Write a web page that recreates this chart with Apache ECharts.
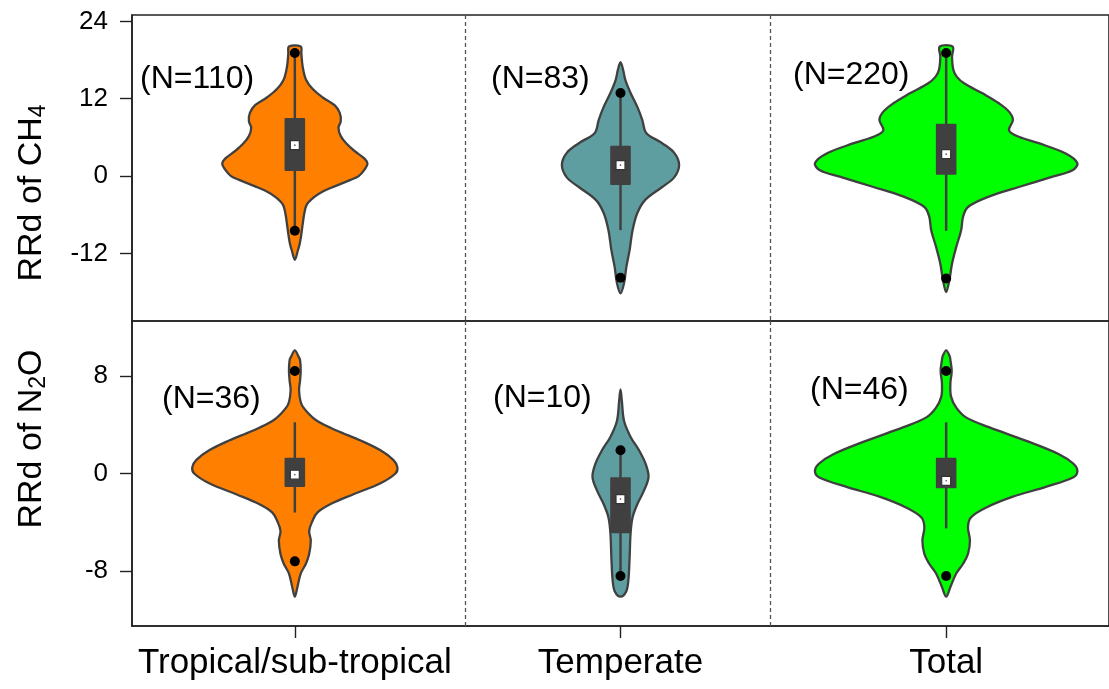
<!DOCTYPE html>
<html>
<head>
<meta charset="utf-8">
<script src="https://cdn.jsdelivr.net/npm/echarts@6/dist/echarts.min.js"></script>
<style>
  html, body { margin: 0; padding: 0; background: #fff; }
  #chart { width: 1109px; height: 689px; }
</style>
</head>
<body>
<div id="chart"></div>
<script>
// ---- data -------------------------------------------------------------
const categories = ['Tropical/sub-tropical', 'Temperate', 'Total'];
const ch4Counts = [110, 83, 220];
const n2oCounts = [36, 10, 46];
const ch4Ticks = [-12, 0, 12, 24];
const n2oTicks = [-8, 0, 8];

// violin outlines: [RRd value, half-width as a fraction of the category band]
const ch4TropicalDensity = [
  [20.1, 0.018], [19.0, 0.020], [17.0, 0.024], [15.0, 0.034], [13.5, 0.055],
  [12.2, 0.086], [11.0, 0.122], [9.8, 0.138], [8.5, 0.141], [7.5, 0.134],
  [6.2, 0.141], [5.0, 0.159], [3.9, 0.183], [2.7, 0.214], [1.9, 0.223],
  [1.0, 0.214], [0.0, 0.196], [-0.6, 0.171], [-1.6, 0.122], [-2.4, 0.086],
  [-3.3, 0.058], [-4.4, 0.037], [-5.8, 0.029], [-7.5, 0.024], [-9.0, 0.020],
  [-10.5, 0.015], [-11.6, 0.009], [-13.0, 0]
];
const ch4TemperateDensity = [
  [17.7, 0], [16.5, 0.008], [14.9, 0.015], [12.9, 0.031], [10.7, 0.052],
  [8.7, 0.067], [6.7, 0.079], [5.1, 0.128], [3.6, 0.165], [1.7, 0.180],
  [-0.2, 0.165], [-1.7, 0.128], [-3.7, 0.076], [-5.7, 0.052], [-8.4, 0.037],
  [-11.5, 0.028], [-14.1, 0.018], [-16.6, 0.011], [-18.2, 0]
];
const ch4TotalDensity = [
  [20.1, 0.020], [18.5, 0.018], [16.5, 0.022], [15.4, 0.033], [14.4, 0.055],
  [12.8, 0.113], [11.3, 0.162], [10.0, 0.193], [8.7, 0.205], [7.1, 0.193],
  [6.1, 0.223], [5.1, 0.284], [3.5, 0.367], [2.0, 0.403], [0.9, 0.388],
  [-0.1, 0.327], [-1.7, 0.223], [-3.2, 0.131], [-4.8, 0.067], [-6.3, 0.052],
  [-8.4, 0.046], [-11.0, 0.031], [-13.6, 0.018], [-16.1, 0.010], [-18.0, 0]
];
const n2oTropicalDensity = [
  [10.1, 0], [9.6, 0.011], [9.3, 0.016], [8.4, 0.018], [7.6, 0.016],
  [6.8, 0.013], [5.7, 0.020], [5.0, 0.039], [4.3, 0.069], [3.5, 0.130],
  [2.7, 0.202], [1.9, 0.263], [1.1, 0.303], [0.5, 0.315], [0.0, 0.309],
  [-0.8, 0.263], [-1.7, 0.180], [-2.5, 0.110], [-3.2, 0.069], [-3.9, 0.054],
  [-4.7, 0.044], [-5.5, 0.049], [-6.6, 0.044], [-7.4, 0.034], [-8.2, 0.018],
  [-9.3, 0.008], [-10.1, 0]
];
const n2oTemperateDensity = [
  [6.9, 0], [6.0, 0.004], [4.3, 0.011], [3.0, 0.031], [1.9, 0.057],
  [0.8, 0.077], [-0.3, 0.086], [-1.4, 0.072], [-2.5, 0.052], [-3.6, 0.037],
  [-4.9, 0.031], [-6.9, 0.028], [-8.8, 0.024], [-9.7, 0.017], [-10.1, 0]
];
const n2oTotalDensity = [
  [10.1, 0], [9.6, 0.011], [9.3, 0.013], [8.4, 0.017], [7.4, 0.013],
  [6.3, 0.015], [5.4, 0.031], [4.6, 0.061], [3.8, 0.131], [2.7, 0.244],
  [1.6, 0.345], [0.8, 0.391], [0.2, 0.403], [-0.3, 0.391], [-1.1, 0.306],
  [-1.9, 0.205], [-2.8, 0.122], [-3.6, 0.076], [-4.4, 0.067], [-5.5, 0.073],
  [-6.6, 0.067], [-7.4, 0.052], [-8.2, 0.031], [-9.3, 0.013], [-10.1, 0]
];

// box statistics: [lower whisker, Q1, mean, Q3, upper whisker]
const ch4Box = [
  [-8.5, 0.8, 4.8, 9.0, 19.1],
  [-8.4, -1.4, 1.7, 4.7, 12.9],
  [-8.5, 0.2, 3.4, 8.1, 19.1]
];
const n2oBox = [
  [-3.2, -1.1, -0.1, 1.3, 4.2],
  [-8.4, -4.9, -2.1, -0.3, 1.9],
  [-4.5, -1.2, -0.6, 1.3, 4.2]
];
// extreme observations shown as dots
const ch4Extremes = [[19.1, -8.5], [12.9, -15.8], [19.1, -15.9]];
const n2oExtremes = [[8.4, -7.2], [1.9, -8.4], [8.4, -8.4]];

// group dividers, in category units from the first category centre
const separators = [0.521, 1.459];

// ---- drawing ----------------------------------------------------------
const FONT = "'Liberation Sans', Arial, sans-serif";
const violinColors = ['#FF8000', '#5F9EA0', '#00FF00'];
const EDGE = '#404040';

function violinRenderer(densities, boxes, extremes) {
  return function (params, api) {
    const i = api.value(0);
    const band = api.size([1, 0])[0];
    const cx = api.coord([i, 0])[0];
    const y = v => api.coord([i, v])[1];
    const dens = densities[i];
    const right = dens.map(d => [cx + d[1] * band, y(d[0])]);
    const left = dens.filter(d => d[1] > 0).reverse().map(d => [cx - d[1] * band, y(d[0])]);
    const [lo, q1, mean, q3, hi] = boxes[i];
    const boxHalf = 10.3;
    const children = [
      { type: 'polygon', shape: { points: right.concat(left), smooth: 0.35 },
        style: { fill: violinColors[i], stroke: EDGE, lineWidth: 2.3 } },
      { type: 'line', shape: { x1: cx, y1: y(hi), x2: cx, y2: y(lo) },
        style: { stroke: EDGE, lineWidth: 2.5 } },
      { type: 'rect', shape: { x: cx - boxHalf, y: y(q3), width: boxHalf * 2, height: y(q1) - y(q3), r: 1 },
        style: { fill: EDGE } },
      { type: 'rect', shape: { x: cx - 4.5, y: y(mean) - 4.5, width: 9, height: 9 },
        style: { fill: '#fff', stroke: '#333', lineWidth: 1.2 } },
      { type: 'circle', shape: { cx: cx, cy: y(mean), r: 0.8 }, style: { fill: '#444' } }
    ];
    extremes[i].forEach(v => children.push({
      type: 'circle', shape: { cx: cx, cy: y(v), r: 5 }, style: { fill: '#000' }
    }));
    return { type: 'group', children: children };
  };
}

function separatorRenderer(params, api) {
  const cs = params.coordSys;
  const band = api.size([1, 0])[0];
  const x0 = api.coord([0, 0])[0];
  return {
    type: 'group',
    children: separators.map(s => {
      const x = Math.round(x0 + s * band) + 0.5;
      return {
        type: 'line',
        shape: { x1: x, y1: cs.y, x2: x, y2: cs.y + cs.height },
        style: { stroke: '#555', lineWidth: 1.3, lineDash: [4, 3] }
      };
    })
  };
}

const indexData = categories.map((c, i) => [i, 0]);

function yAxisFor(gridIndex, min, max, ticks) {
  return {
    type: 'value', gridIndex: gridIndex, min: min, max: max,
    axisLine: { show: true, onZero: false, lineStyle: { color: '#222', width: 1.6 } },
    axisTick: { show: true, customValues: ticks, length: 12, inside: false,
                lineStyle: { color: '#222', width: 1.4 } },
    axisLabel: { customValues: ticks, fontSize: 26, fontFamily: FONT, color: '#000', margin: 24 },
    splitLine: { show: false }
  };
}

function countLabel(text, x, y) {
  return {
    type: 'text', x: x, y: y, z: 10,
    style: { text: text, fontSize: 32, fontFamily: FONT, fill: '#000',
             align: 'left', verticalAlign: 'middle',
             textAlign: 'left', textVerticalAlign: 'middle' }
  };
}

function axisTitle(main, sub, tail, x, y) {
  return {
    type: 'text', x: x, y: y, rotation: Math.PI / 2, z: 10,
    style: {
      text: '{a|' + main + '}{b|' + sub + '}' + (tail ? '{a|' + tail + '}' : ''),
      align: 'center', verticalAlign: 'middle',
      textAlign: 'center', textVerticalAlign: 'middle',
      rich: {
        a: { fontSize: 34, fontFamily: FONT, fill: '#000', lineHeight: 36 },
        b: { fontSize: 23, fontFamily: FONT, fill: '#000', lineHeight: 20, verticalAlign: 'bottom' }
      }
    }
  };
}

const chart = echarts.init(document.getElementById('chart'), null, { renderer: 'canvas' });
chart.setOption({
  animation: false,
  backgroundColor: '#fff',
  grid: [
    { left: 132, right: -4.5, top: 15, height: 306, show: true, borderColor: '#222', borderWidth: 1.6 },
    { left: 132, right: -4.5, top: 321, height: 305, show: true, borderColor: '#222', borderWidth: 1.6 }
  ],
  xAxis: [
    { type: 'category', gridIndex: 0, data: categories,
      axisLine: { show: false, onZero: false }, axisTick: { show: false }, axisLabel: { show: false },
      splitLine: { show: false } },
    { type: 'category', gridIndex: 1, data: categories, position: 'bottom',
      axisLine: { show: true, onZero: false, lineStyle: { color: '#222', width: 1.6 } },
      axisTick: { show: true, alignWithLabel: true, length: 12, lineStyle: { color: '#222', width: 1.4 } },
      axisLabel: { interval: 0, fontSize: 35, fontFamily: FONT, color: '#000', margin: 20 },
      splitLine: { show: false } }
  ],
  yAxis: [
    yAxisFor(0, -22.5, 25, ch4Ticks),
    yAxisFor(1, -12.5, 12.5, n2oTicks)
  ],
  series: [
    { type: 'custom', xAxisIndex: 0, yAxisIndex: 0, data: [[0, 0]],
      renderItem: separatorRenderer, silent: true, z: 1 },
    { type: 'custom', xAxisIndex: 1, yAxisIndex: 1, data: [[0, 0]],
      renderItem: separatorRenderer, silent: true, z: 1 },
    { type: 'custom', xAxisIndex: 0, yAxisIndex: 0, data: indexData, z: 2,
      encode: { x: 0, y: 1 },
      renderItem: violinRenderer([ch4TropicalDensity, ch4TemperateDensity, ch4TotalDensity], ch4Box, ch4Extremes) },
    { type: 'custom', xAxisIndex: 1, yAxisIndex: 1, data: indexData, z: 2,
      encode: { x: 0, y: 1 },
      renderItem: violinRenderer([n2oTropicalDensity, n2oTemperateDensity, n2oTotalDensity], n2oBox, n2oExtremes) }
  ],
  graphic: [
    countLabel('(N=' + ch4Counts[0] + ')', 140, 79),
    countLabel('(N=' + ch4Counts[1] + ')', 491, 79),
    countLabel('(N=' + ch4Counts[2] + ')', 793, 75),
    countLabel('(N=' + n2oCounts[0] + ')', 162, 399),
    countLabel('(N=' + n2oCounts[1] + ')', 493, 398),
    countLabel('(N=' + n2oCounts[2] + ')', 810, 390),
    axisTitle('RRd of CH', '4', '', 32, 193),
    axisTitle('RRd of N', '2', 'O', 32, 439)
  ]
});
</script>
</body>
</html>
